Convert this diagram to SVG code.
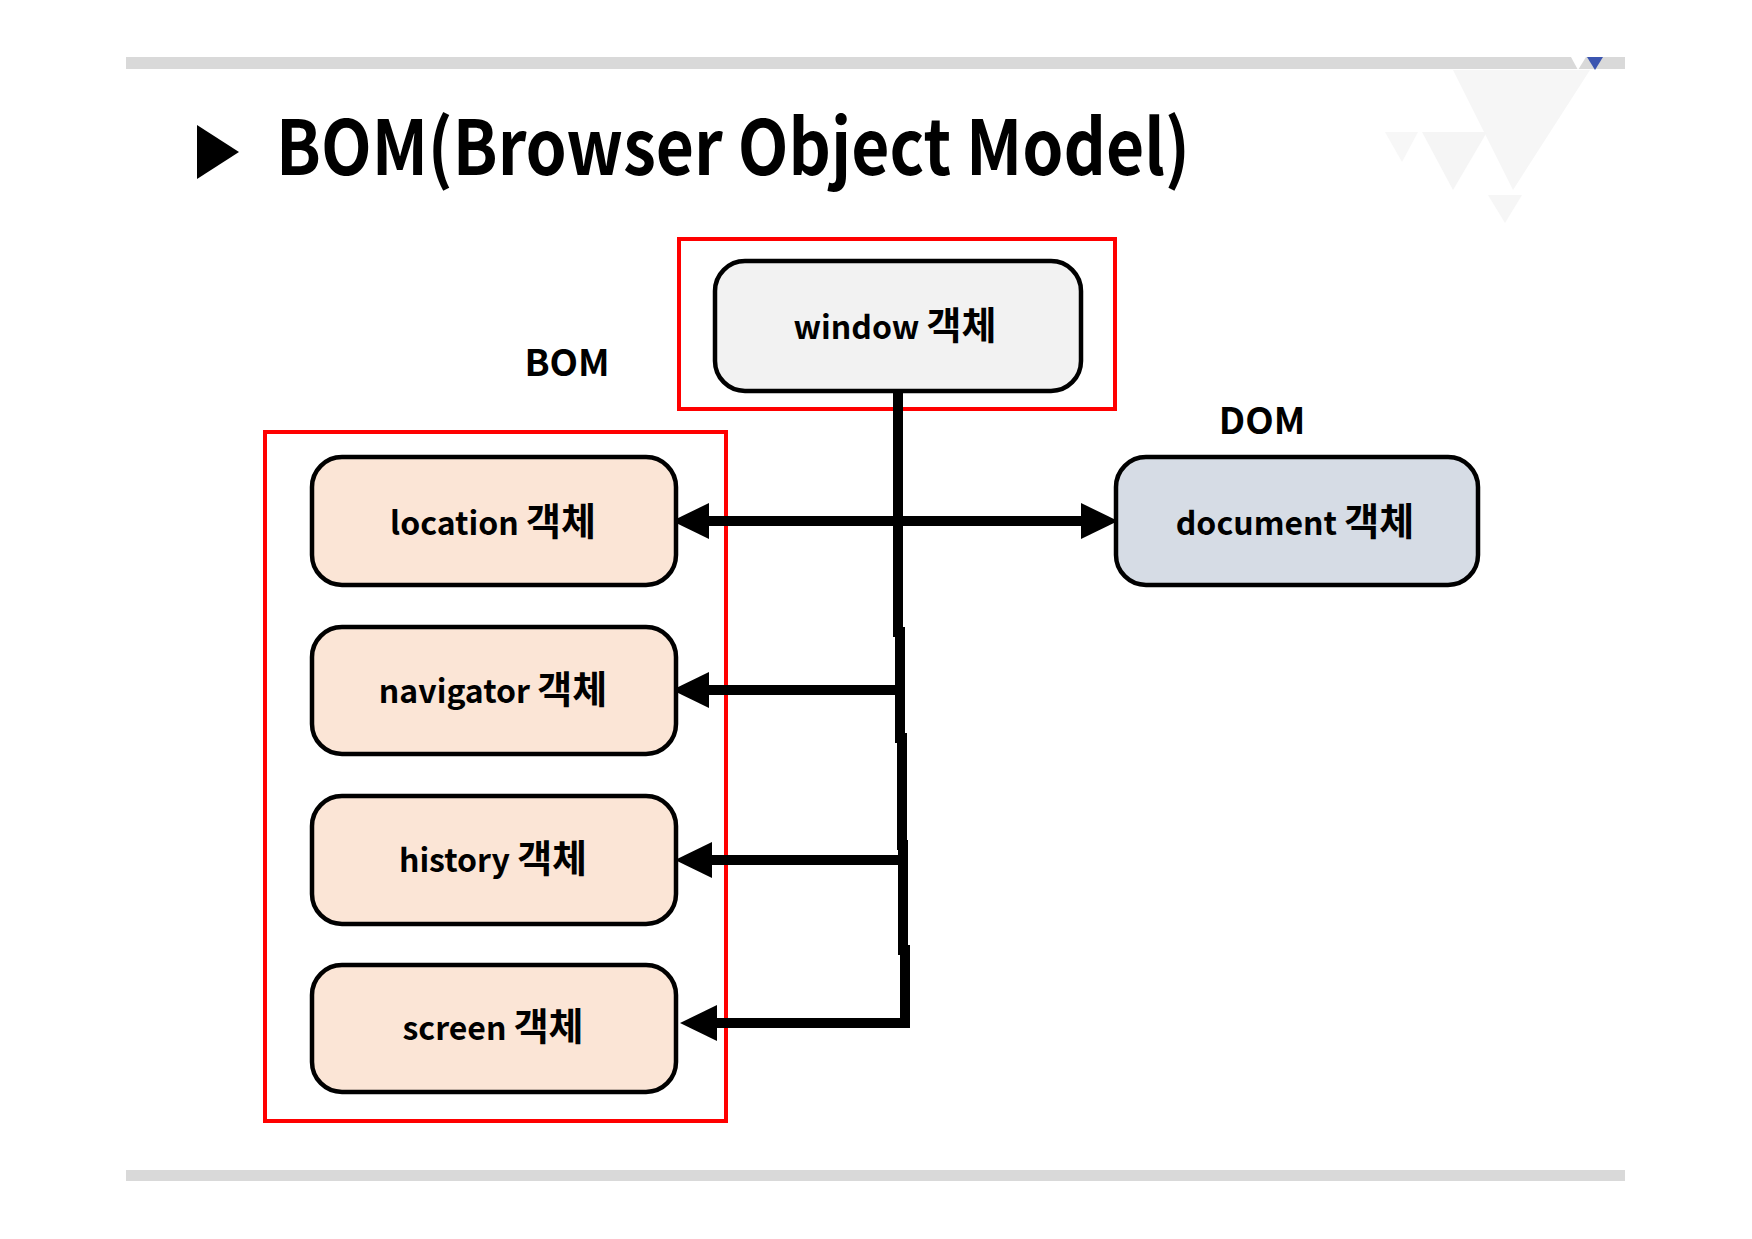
<svg xmlns="http://www.w3.org/2000/svg" width="1752" height="1239" viewBox="0 0 1752 1239">
<defs>
<style>
.box{stroke:#000;stroke-width:4.5}
.bom{fill:#fbe5d6}
.lbl{font-family:"Noto Sans CJK KR","Noto Sans",sans-serif;font-weight:bold;font-size:32px;fill:#000;text-anchor:middle}
.k{font-size:38px}
.sec{font-family:"Noto Sans CJK KR","Noto Sans",sans-serif;font-weight:bold;font-size:37px;fill:#000;text-anchor:middle}
.red{fill:none;stroke:#ff0000;stroke-width:4}
.conn{fill:none;stroke:#000;stroke-width:10;stroke-linejoin:miter}
</style>
<marker id="ah" markerUnits="userSpaceOnUse" markerWidth="38" markerHeight="38" refX="0" refY="18" orient="auto-start-reverse" viewBox="0 0 38 36">
<path d="M0,0 L37,18 L0,36 Z" fill="#000"/>
</marker>
</defs>
<rect width="1752" height="1239" fill="#fff"/>
<g id="decor">
<polygon points="1453,70 1590,70 1513,190" fill="#f6f6f6"/>
<polygon points="1422,132 1487,132 1453,190" fill="#f5f5f5"/>
<polygon points="1385,132 1418,132 1402,162" fill="#f7f7f7"/>
<polygon points="1488,195 1522,195 1505,223" fill="#f6f6f6"/>
<rect x="126" y="57" width="1499" height="12" fill="#d9d9d9"/>
<polygon points="1571,57 1586,57 1578,70" fill="#ffffff"/>
<polygon points="1587,57 1603,57 1595,70" fill="#3b55b0"/>
<rect x="126" y="1170" width="1499" height="11" fill="#d9d9d9"/>
</g>
<g id="title">
<polygon points="197,125 239,152 197,179" fill="#000"/>
<text x="276" y="175" font-family="'Noto Sans CJK KR','Noto Sans',sans-serif" font-weight="bold" font-size="76" textLength="914" lengthAdjust="spacingAndGlyphs">BOM(Browser Object Model)</text>
</g>
<g id="group-labels">
<text class="sec" x="567" y="376">BOM</text>
<text class="sec" x="1262" y="434">DOM</text>
<rect class="red" x="679" y="239" width="436" height="170"/>
<rect class="red" x="265" y="432" width="461" height="689"/>
</g>
<g id="connectors">
<path class="conn" d="M898,391 V632 H900 V738 H902 V845 H903 V950 H905 V1023 H717" marker-end="url(#ah)"/>
<path class="conn" d="M709,521 H1081" marker-start="url(#ah)" marker-end="url(#ah)"/>
<path class="conn" d="M900,690 H709" marker-end="url(#ah)"/>
<path class="conn" d="M902,860 H712" marker-end="url(#ah)"/>
</g>
<g id="window">
<rect class="box" x="715" y="261" width="366" height="130" rx="30" fill="#f2f2f2"/>
<text class="lbl" x="895" y="339">window <tspan class="k">객체</tspan></text>
</g>
<g id="document">
<rect class="box" x="1116" y="457" width="362" height="128" rx="30" fill="#d6dce5"/>
<text class="lbl" x="1295" y="535">document <tspan class="k">객체</tspan></text>
</g>
<g id="location">
<rect class="box bom" x="312" y="457" width="364" height="128" rx="30"/>
<text class="lbl" x="493" y="535">location <tspan class="k">객체</tspan></text>
</g>
<g id="navigator">
<rect class="box bom" x="312" y="627" width="364" height="127" rx="30"/>
<text class="lbl" x="493" y="703">navigator <tspan class="k">객체</tspan></text>
</g>
<g id="history">
<rect class="box bom" x="312" y="796" width="364" height="128" rx="30"/>
<text class="lbl" x="493" y="872">history <tspan class="k">객체</tspan></text>
</g>
<g id="screen">
<rect class="box bom" x="312" y="965" width="364" height="127" rx="30"/>
<text class="lbl" x="493" y="1040">screen <tspan class="k">객체</tspan></text>
</g>
</svg>
